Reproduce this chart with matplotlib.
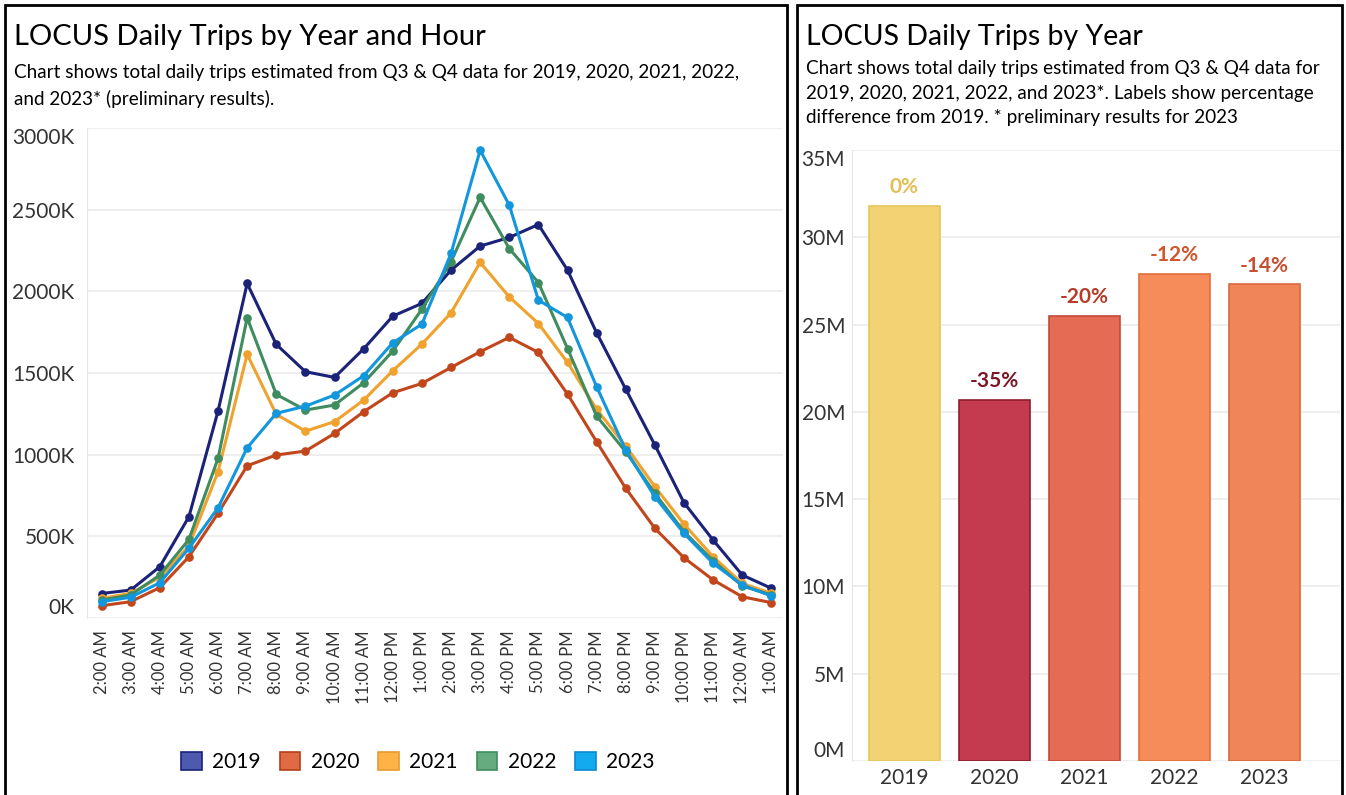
import matplotlib
matplotlib.use("Agg")
import matplotlib.pyplot as plt
from matplotlib.patches import Rectangle, Patch

plt.rcParams['font.family'] = ['Lato', 'DejaVu Sans']

# Datos del gráfico de líneas (miles de viajes por hora)
horas = ["2:00 AM", "3:00 AM", "4:00 AM", "5:00 AM", "6:00 AM", "7:00 AM", "8:00 AM",
         "9:00 AM", "10:00 AM", "11:00 AM", "12:00 PM", "1:00 PM", "2:00 PM", "3:00 PM",
         "4:00 PM", "5:00 PM", "6:00 PM", "7:00 PM", "8:00 PM", "9:00 PM", "10:00 PM",
         "11:00 PM", "12:00 AM", "1:00 AM"]
viajes_2019 = [150, 171, 314, 620, 1267, 2048, 1675, 1508, 1473, 1648, 1848, 1926,
               2130, 2277, 2330, 2409, 2130, 1746, 1401, 1059, 706, 477, 263, 182]
viajes_2020 = [75, 100, 186, 375, 641, 932, 998, 1022, 1130, 1263, 1379, 1436,
               1534, 1630, 1718, 1626, 1371, 1079, 794, 549, 369, 233, 130, 94]
viajes_2021 = [120, 151, 249, 441, 895, 1614, 1247, 1144, 1202, 1334, 1514, 1677,
               1868, 2177, 1966, 1803, 1565, 1277, 1053, 804, 575, 375, 212, 151]
viajes_2022 = [110, 141, 263, 481, 977, 1838, 1369, 1273, 1304, 1440, 1634, 1891,
               2181, 2575, 2262, 2054, 1650, 1236, 1018, 763, 528, 351, 196, 141]
viajes_2023 = [100, 127, 216, 427, 675, 1042, 1253, 1297, 1365, 1483, 1685, 1799,
               2232, 2864, 2528, 1946, 1840, 1416, 1028, 742, 518, 335, 202, 135]

# Datos del gráfico de barras (millones de viajes por año)
años = ["2019", "2020", "2021", "2022", "2023"]
total_anual = [31.8, 20.7, 25.5, 27.9, 27.3]
etiquetas_pct = ["0%", "-35%", "-20%", "-12%", "-14%"]

series = [viajes_2019, viajes_2020, viajes_2021, viajes_2022, viajes_2023]
color_linea = ["#1b2378", "#c2461c", "#f0a22e", "#3f8c5f", "#1296dc"]
color_leyenda = ["#4c5bb0", "#e06a42", "#ffb347", "#66aa80", "#14aaf0"]
borde_leyenda = ["#1b2378", "#b0401a", "#e89a30", "#3f8c5f", "#0c8ad0"]

color_barra = ["#f2d272", "#c43a4e", "#e66b55", "#f68c5a", "#f0855a"]
borde_barra = ["#e8c55c", "#8e1b2e", "#c24a38", "#e06e3c", "#d8683e"]
color_etiqueta = ["#e3be55", "#7e1626", "#b83a28", "#d0562c", "#c84e30"]

fig = plt.figure(figsize=(13.46, 7.95), dpi=100)
W, H = 1346, 795

# Marcos de los paneles
fig.patches.append(Rectangle((5 / W, -0.02), 782 / W, 1 - 5 / H + 0.02, transform=fig.transFigure,
                             fill=False, edgecolor="black", linewidth=2))
fig.patches.append(Rectangle((797 / W, -0.02), 545 / W, 1 - 5 / H + 0.02, transform=fig.transFigure,
                             fill=False, edgecolor="black", linewidth=2))

# Títulos
fig.text(14 / W, 1 - 37 / H, "LOCUS Daily Trips by Year and Hour", fontsize=21, va="center")
fig.text(14 / W, 1 - 86 / H,
         "Chart shows total daily trips estimated from Q3 & Q4 data for 2019, 2020, 2021, 2022,\n"
         "and 2023* (preliminary results).",
         fontsize=13.6, va="center", linespacing=1.55)
fig.text(806 / W, 1 - 37 / H, "LOCUS Daily Trips by Year", fontsize=20.5, va="center")
fig.text(806 / W, 1 - 93 / H,
         "Chart shows total daily trips estimated from Q3 & Q4 data for\n"
         "2019, 2020, 2021, 2022, and 2023*. Labels show percentage\n"
         "difference from 2019. * preliminary results for 2023",
         fontsize=13.6, va="center", linespacing=1.55)

# Gráfico de líneas
ax1 = fig.add_axes([87 / W, 1 - 618 / H, 696 / W, 490 / H])
x = list(range(len(horas)))
for datos, col in zip(series, color_linea):
    ax1.plot(x, datos, color=col, linewidth=2.2, marker="o", markersize=5.2, zorder=3)
ax1.set_xlim(-0.5, 23.4)
ax1.set_ylim(0, 3000)
ax1.set_yticks([0, 500, 1000, 1500, 2000, 2500, 3000])
ax1.set_yticklabels([f"{v}K" for v in [0, 500, 1000, 1500, 2000, 2500, 3000]], fontsize=15, color="#333333")
ax1.get_yticklabels()[0].set_va("bottom")
ax1.get_yticklabels()[-1].set_va("top")
ax1.set_xticks(x)
ax1.set_xticklabels(horas, rotation=90, fontsize=12, color="#333333")
ax1.tick_params(length=0, pad=9)
ax1.grid(axis="y", color="#ebebeb", linewidth=1.2)
for s in ["top", "right", "bottom"]:
    ax1.spines[s].set_visible(False)
ax1.spines["left"].set_color("#e6e6e6")

handles = [Patch(facecolor=c, edgecolor=e, linewidth=1.2) for c, e in zip(color_leyenda, borde_leyenda)]
fig.legend(handles, años, loc="center", bbox_to_anchor=(418 / W, 1 - 762 / H), ncol=5,
           frameon=False, fontsize=15, handlelength=1.0, handleheight=1.0,
           handletextpad=0.5, columnspacing=0.9)

# Gráfico de barras
ax2 = fig.add_axes([852 / W, 1 - 761 / H, 488 / W, 611 / H])
xb = list(range(len(años)))
ax2.bar(xb, total_anual, width=0.79, color=color_barra, edgecolor=borde_barra, linewidth=1.2, zorder=3)
for i, (v, t) in enumerate(zip(total_anual, etiquetas_pct)):
    ax2.text(i, v + 0.5, t, ha="center", va="bottom", fontsize=15, fontweight="bold",
             color=color_etiqueta[i])
ax2.set_xlim(-0.58, 4.84)
ax2.set_ylim(0, 35)
ax2.set_yticks([0, 5, 10, 15, 20, 25, 30, 35])
ax2.set_yticklabels([f"{v}M" for v in [0, 5, 10, 15, 20, 25, 30, 35]], fontsize=15, color="#333333")
ax2.get_yticklabels()[0].set_va("bottom")
ax2.get_yticklabels()[-1].set_va("top")
ax2.set_xticks(xb)
ax2.set_xticklabels(años, fontsize=15, color="#333333")
ax2.tick_params(length=0, pad=5)
ax2.grid(axis="y", color="#ebebeb", linewidth=1.2)
for s in ["top", "right", "bottom"]:
    ax2.spines[s].set_visible(False)
ax2.spines["left"].set_color("#e6e6e6")

fig.savefig("out.png", dpi=100)
